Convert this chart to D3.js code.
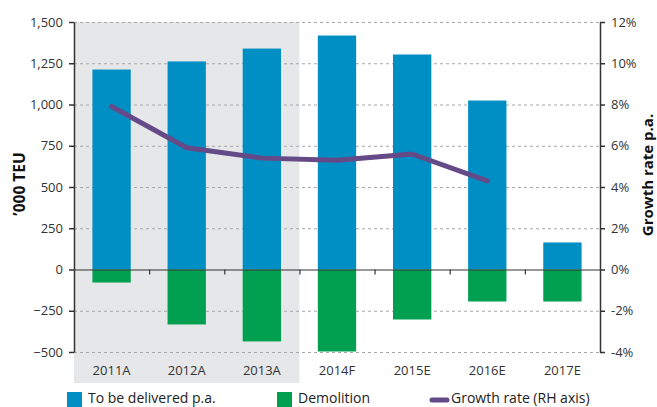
<!DOCTYPE html>
<html>
<head>
<meta charset="utf-8">
<script src="https://cdn.jsdelivr.net/npm/d3@7"></script>
<style>
  body { margin: 0; background: #fff; }
  svg { display: block; font-family: "Open Sans", sans-serif; }
</style>
</head>
<body>
<svg></svg>
<script>
// chart data
var years = ["2011A", "2012A", "2013A", "2014F", "2015E", "2016E", "2017E"];
var delivered = [1212, 1261, 1339, 1418, 1303, 1024, 164];
var demolition = [-79, -333, -436, -497, -303, -194, -194];
var growth = [7.9, 5.9, 5.4, 5.3, 5.6, 4.3]; // % , ends at 2016E
var leftTicks = [1500, 1250, 1000, 750, 500, 250, 0, -250, -500];
var rightTicks = [12, 10, 8, 6, 4, 2, 0, -2, -4];
var actualYears = ["2011A", "2012A", "2013A"];

var width = 657;
var height = 407;
var plotLeft = 74, plotRight = 600, plotTop = 22, plotBottom = 352;

var svg = d3.select('svg')
	.attr('width', width)
	.attr('height', height);

var xScale = d3.scaleBand()
	.domain(years)
	.range([plotLeft, plotRight])
	.paddingInner(0.49)
	.paddingOuter(0.245);

var yLeft = d3.scaleLinear()
	.domain([-500, 1500])
	.range([plotBottom, plotTop]);

var yRight = d3.scaleLinear()
	.domain([-4, 12])
	.range([plotBottom, plotTop]);

var step = xScale.step();
var bandStart = d => xScale(d) - (step - xScale.bandwidth()) / 2;

// shaded area for actuals
svg.append('rect')
	.attr('x', plotLeft)
	.attr('y', plotTop)
	.attr('width', bandStart(actualYears[actualYears.length - 1]) + step - plotLeft)
	.attr('height', 383 - plotTop)
	.attr('fill', '#e6e7e9');

// gridlines
svg.append('g')
	.selectAll('line')
	.data(leftTicks.filter(d => d !== 0))
	.enter()
	.append('line')
	.attr('x1', plotLeft)
	.attr('x2', plotRight)
	.attr('y1', d => yLeft(d) + 0.5)
	.attr('y2', d => yLeft(d) + 0.5)
	.attr('stroke', '#a8a8a8')
	.attr('stroke-width', 1)
	.attr('stroke-dasharray', '3,3');

// bars
svg.append('g')
	.selectAll('rect')
	.data(years)
	.enter()
	.append('rect')
	.attr('x', (d) => xScale(d))
	.attr('y', (d, i) => yLeft(delivered[i]))
	.attr('width', xScale.bandwidth())
	.attr('height', (d, i) => yLeft(0) - yLeft(delivered[i]))
	.attr('fill', '#008fc5');

svg.append('g')
	.selectAll('rect')
	.data(years)
	.enter()
	.append('rect')
	.attr('x', (d) => xScale(d))
	.attr('y', yLeft(0))
	.attr('width', xScale.bandwidth())
	.attr('height', (d, i) => yLeft(demolition[i]) - yLeft(0))
	.attr('fill', '#00a050');

// zero line + category ticks
svg.append('line')
	.attr('x1', plotLeft)
	.attr('x2', plotRight)
	.attr('y1', yLeft(0) + 0.5)
	.attr('y2', yLeft(0) + 0.5)
	.attr('stroke', '#333')
	.attr('stroke-width', 1.2);

svg.append('g')
	.selectAll('line')
	.data(years.slice(1))
	.enter()
	.append('line')
	.attr('x1', d => bandStart(d) + 0.5)
	.attr('x2', d => bandStart(d) + 0.5)
	.attr('y1', yLeft(0))
	.attr('y2', yLeft(0) + 5)
	.attr('stroke', '#333')
	.attr('stroke-width', 1.2);

// growth line
var line = d3.line()
	.x((d, i) => xScale(years[i]) + xScale.bandwidth() / 2)
	.y(d => yRight(d));

svg.append('path')
	.datum(growth)
	.attr('d', line)
	.attr('fill', 'none')
	.attr('stroke', '#654a88')
	.attr('stroke-width', 5)
	.attr('stroke-linecap', 'round')
	.attr('stroke-linejoin', 'round');

// axes
var leftAxis = d3.axisLeft(yLeft)
	.tickValues(leftTicks)
	.tickSize(5)
	.tickSizeOuter(0)
	.tickPadding(6)
	.tickFormat(d3.format(','));

var rightAxis = d3.axisRight(yRight)
	.tickValues(rightTicks)
	.tickSize(5)
	.tickSizeOuter(0)
	.tickPadding(6)
	.tickFormat(d => d + '%');

var gl = svg.append('g')
	.attr('transform', 'translate(' + plotLeft + ',0)')
	.call(leftAxis);

var gr = svg.append('g')
	.attr('transform', 'translate(' + plotRight + ',0)')
	.call(rightAxis);

[gl, gr].forEach(function(g){
	g.select('.domain').attr('stroke', '#333').attr('stroke-width', 1.5);
	g.selectAll('.tick line').attr('stroke', '#333').attr('stroke-width', 1.5);
	g.selectAll('.tick text')
		.attr('fill', '#333')
		.style('font-size', '13px')
		.style('font-family', '"Open Sans", sans-serif');
});

// category labels
svg.append('g')
	.selectAll('text')
	.data(years)
	.enter()
	.append('text')
	.attr('x', d => xScale(d) + xScale.bandwidth() / 2)
	.attr('y', 375)
	.attr('text-anchor', 'middle')
	.attr('fill', '#333')
	.style('font-size', '13px')
	.text(d => d);

// axis titles
svg.append('text')
	.attr('transform', 'translate(25,184) rotate(-90)')
	.attr('text-anchor', 'middle')
	.attr('fill', '#111')
	.style('font-size', '15.5px')
	.style('font-weight', 'bold')
	.text('\u2019000 TEU');

svg.append('text')
	.attr('transform', 'translate(653,175) rotate(-90)')
	.attr('text-anchor', 'middle')
	.attr('fill', '#111')
	.style('font-size', '15px')
	.style('font-weight', 'bold')
	.text('Growth rate p.a.');

// legend
var legend = svg.append('g');
var legendItems = [
	{label: 'To be delivered p.a.', color: '#008fc5', x: 67, type: 'box'},
	{label: 'Demolition', color: '#00a050', x: 277, type: 'box'},
	{label: 'Growth rate (RH axis)', color: '#654a88', x: 430, type: 'line'}
];

legendItems.forEach(function(item){
	if (item.type === 'box') {
		legend.append('rect')
			.attr('x', item.x)
			.attr('y', 392)
			.attr('width', 15)
			.attr('height', 15)
			.attr('fill', item.color);
	} else {
		legend.append('line')
			.attr('x1', item.x + 2)
			.attr('x2', item.x + 17)
			.attr('y1', 400)
			.attr('y2', 400)
			.attr('stroke', item.color)
			.attr('stroke-width', 5)
			.attr('stroke-linecap', 'round');
	}
	legend.append('text')
		.attr('x', item.x + 21)
		.attr('y', 403)
		.attr('fill', '#222')
		.style('font-size', '14px')
		.text(item.label);
});
</script>
</body>
</html>
